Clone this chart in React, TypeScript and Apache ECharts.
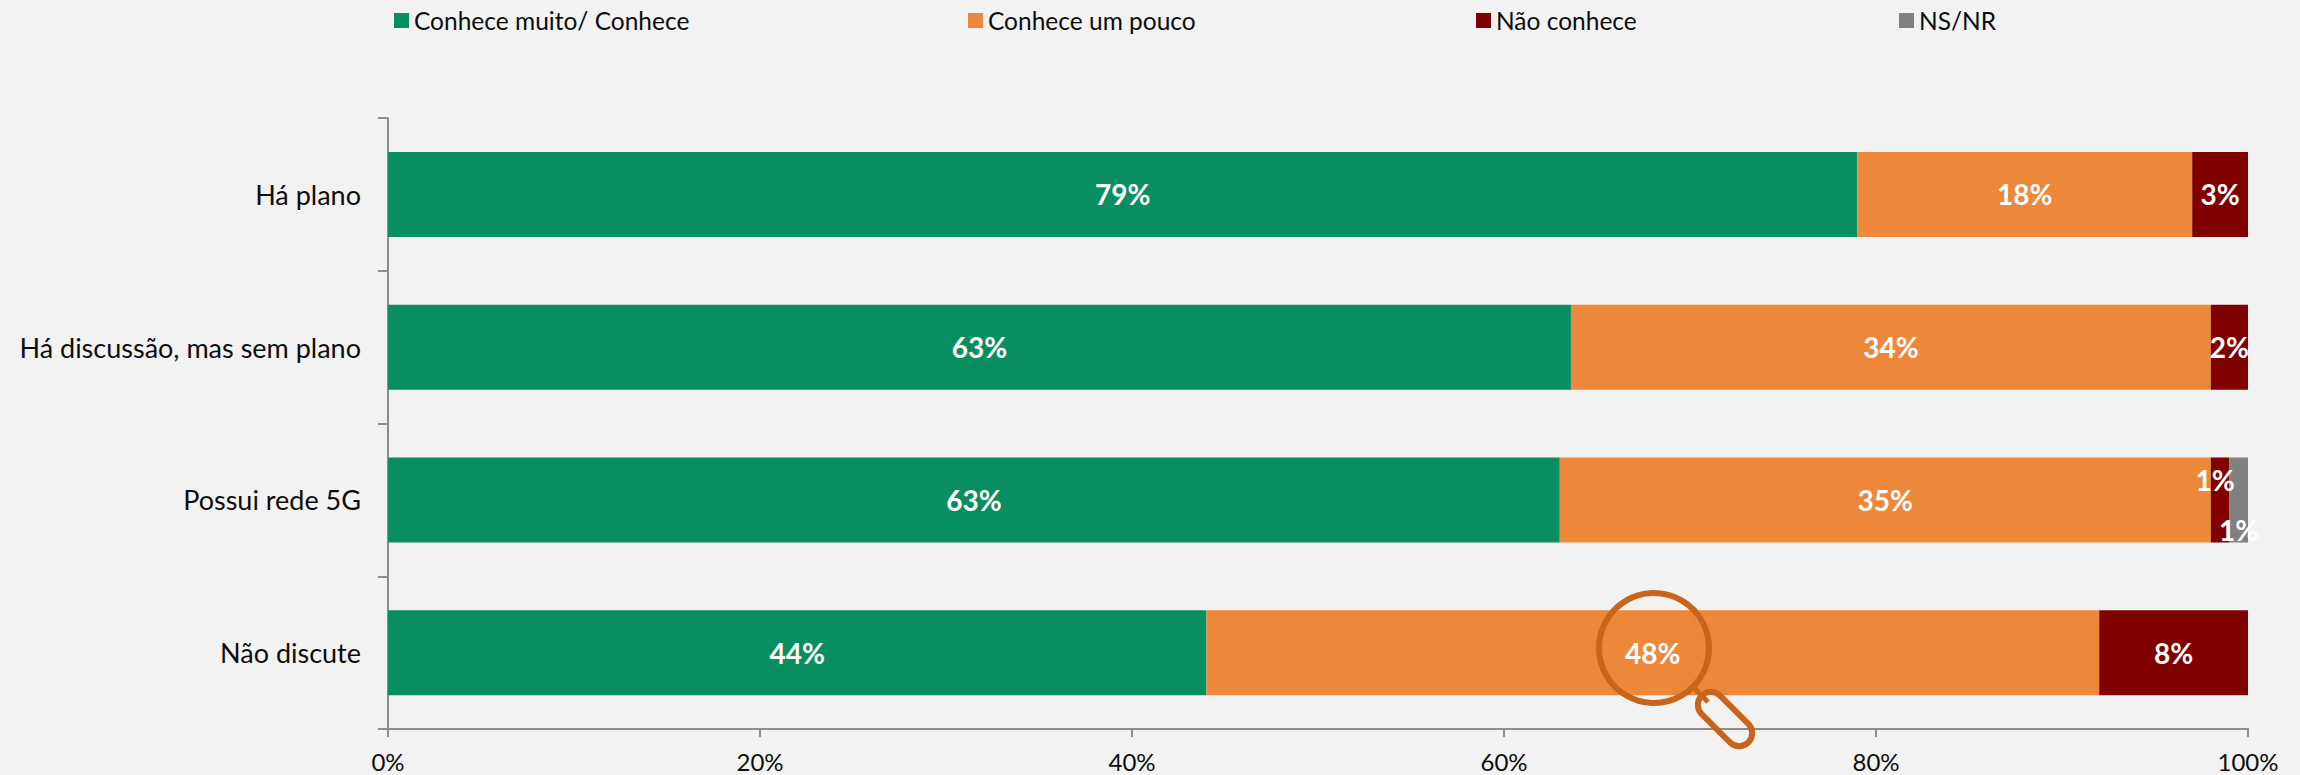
import React, { useEffect, useRef } from "react";
import * as echarts from "echarts";

const categories = ["Há plano", "Há discussão, mas sem plano", "Possui rede 5G", "Não discute"];
const seriesNames = ["Conhece muito/ Conhece", "Conhece um pouco", "Não conhece", "NS/NR"];
const conheceMuito = [79, 63.6, 63, 44];
const conheceUmPouco = [18, 34.4, 35, 48];
const naoConhece = [3, 2, 1, 8];
const nsNr = [null, null, 1, null];
const labelsMuito = ["79%", "63%", "63%", "44%"];
const labelsPouco = ["18%", "34%", "35%", "48%"];
const labelsNao = ["3%", "2%", "1%", "8%"];
const labelsNs = ["", "", "1%", ""];
const xTicks = [0, 20, 40, 60, 80, 100];

const FONT = "Lato";
const TEXT = "#0d0d0d";
const AXIS = "#8c8c8c";
const GREEN = "#098E61";
const ORANGE = "#ED883B";
const RED = "#800000";
const GRAY = "#808080";
const LENS = "#C8651B";

const makeSeries = (
  name: string,
  values: (number | null)[],
  labels: string[],
  color: string,
  tweak?: (i: number) => any
) => ({
  name,
  type: "bar",
  stack: "total",
  barWidth: 85,
  itemStyle: { color },
  data: values.map((value, i) => ({
    value,
    label: {
      show: !!labels[i],
      position: "inside",
      formatter: labels[i],
      color: "#ffffff",
      fontFamily: FONT,
      fontWeight: "bold",
      fontSize: 28,
      ...(tweak ? tweak(i) : {}),
    },
  })),
});

const legendAt = (name: string, left: number) => ({
  show: true,
  data: [name],
  left,
  top: 8,
  padding: 0,
  itemWidth: 15,
  itemHeight: 15,
  itemGap: 6,
  icon: "rect",
  textStyle: { color: TEXT, fontFamily: FONT, fontSize: 24.5, padding: 0 },
});

export default function App() {
  const ref = useRef<HTMLDivElement>(null);
  useEffect(() => {
    document.body.style.margin = "0";
    document.body.style.background = "#F2F2F2";
    const chart = echarts.init(ref.current!, undefined, { renderer: "svg" });
    chart.setOption({
      animation: false,
      backgroundColor: "#F2F2F2",
      legend: [
        legendAt(seriesNames[0], 394),
        legendAt(seriesNames[1], 968),
        legendAt(seriesNames[2], 1476),
        legendAt(seriesNames[3], 1899),
      ],
      grid: { left: 388, right: 52, top: 118, height: 611, containLabel: false },
      xAxis: {
        type: "value",
        min: 0,
        max: 100,
        interval: 20,
        splitLine: { show: false },
        axisLine: { show: true, lineStyle: { color: AXIS, width: 2 } },
        axisTick: { show: true, length: 8, lineStyle: { color: AXIS, width: 2 } },
        axisLabel: {
          show: true,
          margin: 20,
          color: TEXT,
          fontFamily: FONT,
          fontSize: 24,
          customValues: xTicks,
          formatter: (v: number) => `${v}%`,
        },
      },
      yAxis: {
        type: "category",
        inverse: true,
        data: categories,
        axisLine: { show: true, lineStyle: { color: AXIS, width: 2 } },
        axisTick: { show: true, length: 10, lineStyle: { color: AXIS, width: 2 } },
        axisLabel: { margin: 27, color: TEXT, fontFamily: FONT, fontSize: 27 },
      },
      series: [
        makeSeries(seriesNames[0], conheceMuito, labelsMuito, GREEN),
        makeSeries(seriesNames[1], conheceUmPouco, labelsPouco, ORANGE),
        makeSeries(seriesNames[2], naoConhece, labelsNao, RED, (i) =>
          i === 2 ? { offset: [-5, -20] } : {}
        ),
        makeSeries(seriesNames[3], nsNr, labelsNs, GRAY, (i) =>
          i === 2 ? { offset: [0, 30] } : {}
        ),
      ],
      graphic: [
        {
          type: "circle",
          z: 100,
          shape: { cx: 1654, cy: 648, r: 55 },
          style: { fill: "transparent", stroke: LENS, lineWidth: 6 },
        },
        {
          type: "line",
          z: 100,
          shape: { x1: 1694, y1: 688, x2: 1708, y2: 702 },
          style: { stroke: LENS, lineWidth: 5 },
        },
        {
          type: "rect",
          z: 100,
          x: 1725,
          y: 719,
          rotation: -Math.PI / 4,
          shape: { x: -33, y: -13, width: 66, height: 26, r: 13 },
          style: { fill: "transparent", stroke: LENS, lineWidth: 6 },
        },
      ],
    });
    return () => chart.dispose();
  }, []);
  return <div ref={ref} style={{ width: 2300, height: 775 }} />;
}
